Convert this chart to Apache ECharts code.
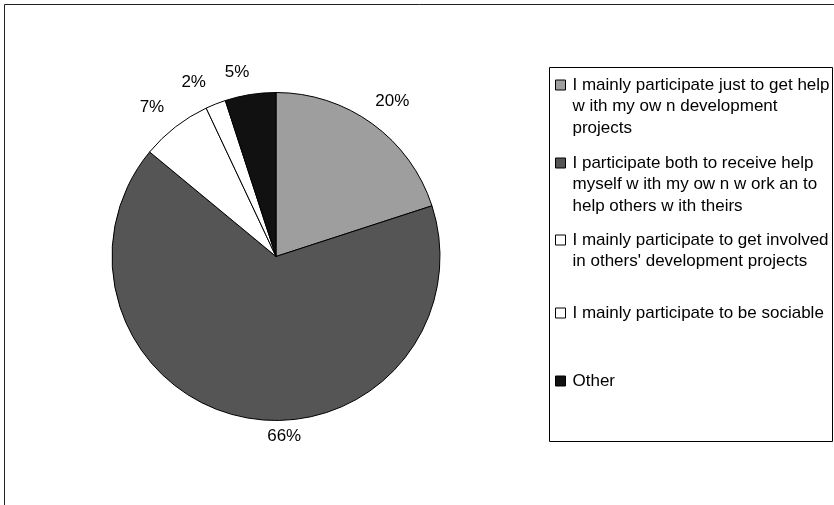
<!DOCTYPE html>
<html>
<head>
<meta charset="utf-8">
<script src="https://cdn.jsdelivr.net/npm/echarts@6/dist/echarts.min.js"></script>
<style>
  html, body { margin: 0; padding: 0; background: #ffffff; }
  #chart { width: 834px; height: 505px; }
</style>
</head>
<body>
<div id="chart"></div>
<script>
// ---- data ----
const categories = [
  "I mainly participate just to get help with my own development projects",
  "I participate both to receive help myself with my own work an to help others with theirs",
  "I mainly participate to get involved in others' development projects",
  "I mainly participate to be sociable",
  "Other"
];
const legendLines = [
  ["I mainly participate just to get help", "w ith my ow n development", "projects"],
  ["I participate both to receive help", "myself w ith my ow n w ork an to", "help others w ith theirs"],
  ["I mainly participate to get involved", "in others' development projects"],
  ["I mainly participate to be sociable"],
  ["Other"]
];
const values = [20, 66, 7, 2, 5];

// ---- styles ----
const sliceColors = ['#9e9e9e', '#555555', '#ffffff', '#ffffff', '#111111'];
const labelNudges = [[4, -1], [44, -8], [-7, 2], [-12, 3], [-9, 4]];
const legendIconY = [85, 163, 240, 313, 381];
const FONT = '"Liberation Sans", Arial, sans-serif';
const LH = 21.5;
const CX = 276, CY = 256.5, R = 164;

const chart = echarts.init(document.getElementById('chart'), null, { renderer: 'canvas' });

const legends = categories.map(function (name, i) {
  const n = legendLines[i].length;
  // leading blank lines keep the first text line level with the icon
  const txt = new Array(n).join('\n') + legendLines[i].join('\n');
  return {
    show: true,
    orient: 'vertical',
    left: 555,
    top: legendIconY[i] - (2 * n - 1) * LH / 2,
    padding: 0,
    itemWidth: 10,
    itemHeight: 10,
    icon: 'rect',
    selectedMode: false,
    data: [{
      name: name,
      itemStyle: { color: sliceColors[i], borderColor: '#000', borderWidth: 1 }
    }],
    formatter: function () { return txt; },
    textStyle: {
      fontFamily: FONT,
      fontSize: 17,
      color: '#000',
      lineHeight: LH,
      padding: [0, 0, 0, 2]
    }
  };
});

const option = {
  animation: false,
  backgroundColor: '#ffffff',
  graphic: [
    { type: 'rect', z: -1, shape: { x: 4.5, y: 4.5, width: 840, height: 510 },
      style: { fill: 'none', stroke: '#222', lineWidth: 1 } },
    { type: 'rect', z: -1, shape: { x: 549.5, y: 67.5, width: 283, height: 374 },
      style: { fill: '#fff', stroke: '#000', lineWidth: 1 } }
  ],
  legend: legends,
  series: [
    {
      type: 'pie',
      center: [CX, CY],
      radius: R,
      startAngle: 90,
      clockwise: true,
      silent: true,
      label: { show: false },
      labelLine: { show: false },
      itemStyle: { borderColor: '#000', borderWidth: 1 },
      data: categories.map(function (name, i) {
        return { name: name, value: values[i], itemStyle: { color: sliceColors[i] } };
      })
    },
    {
      type: 'pie',
      center: [CX, CY],
      radius: [176, 200],
      startAngle: 90,
      clockwise: true,
      silent: true,
      itemStyle: { color: 'rgba(0,0,0,0)', borderWidth: 0 },
      label: {
        show: true,
        position: 'inside',
        formatter: '{c}%',
        fontFamily: FONT,
        fontSize: 17,
        color: '#000'
      },
      labelLine: { show: false },
      labelLayout: function (p) {
        return { dx: labelNudges[p.dataIndex][0], dy: labelNudges[p.dataIndex][1] };
      },
      data: categories.map(function (name, i) {
        return { name: name, value: values[i] };
      })
    }
  ]
};
chart.setOption(option);
</script>
</body>
</html>
